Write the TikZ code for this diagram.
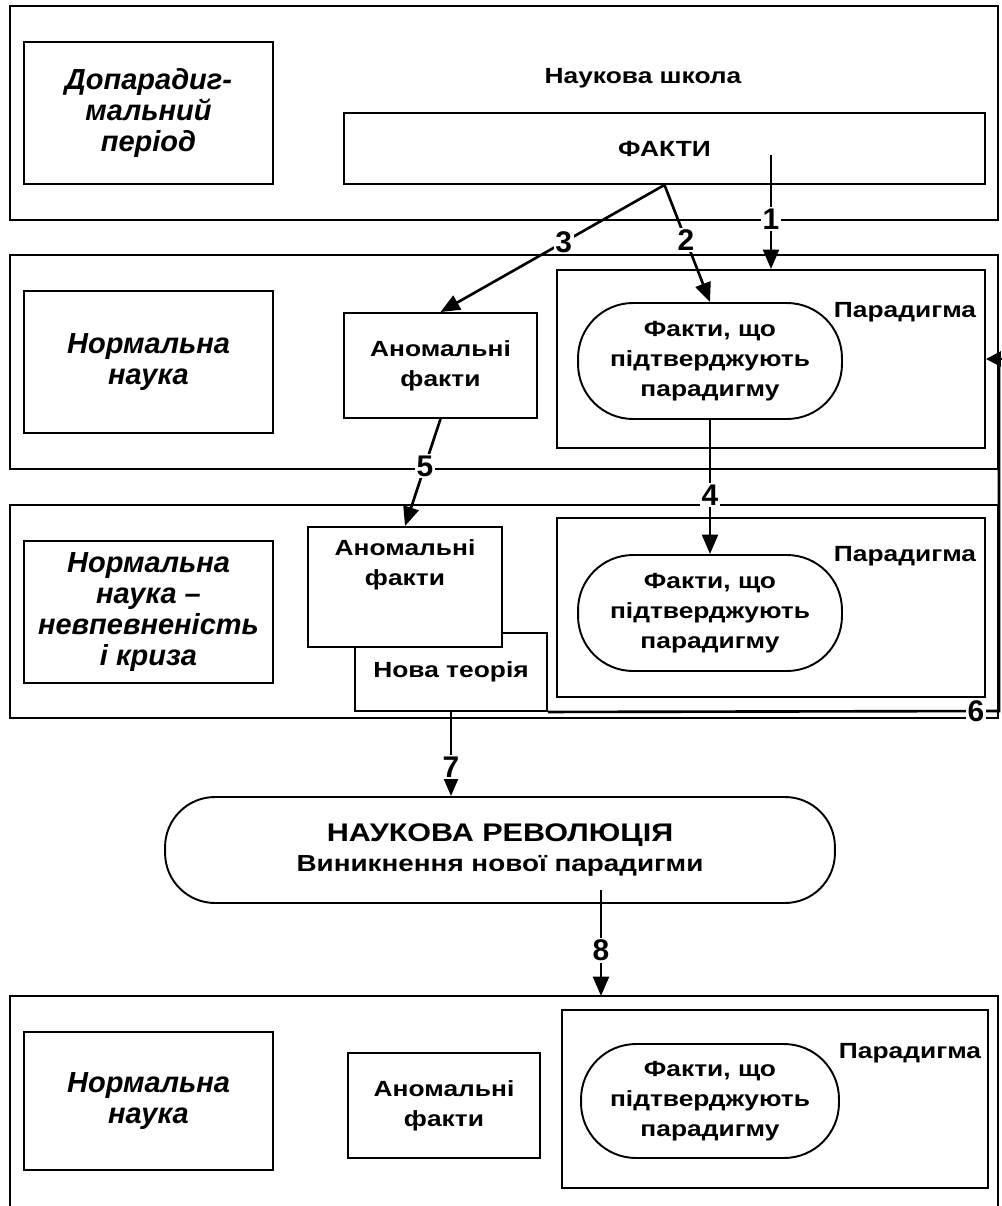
\documentclass[tikz,border=0pt]{standalone}
\usepackage{fontspec}
\setmainfont{Liberation Sans}[FakeStretch=1.2]
\newfontfamily\plainsans{Liberation Sans}
\usetikzlibrary{arrows.meta}

\begin{document}
\begin{tikzpicture}[x=0.02cm, y=-0.02cm, >={Triangle[length=11pt,width=9pt]}]

	\tikzstyle{frame}=[draw, line width=1.1pt]
	\tikzstyle{box}=[draw, fill=white, line width=1.1pt, inner sep=0pt, align=center, font=\bfseries\fontsize{12.5}{17}\selectfont]
	\tikzstyle{stage}=[draw, line width=1.1pt, minimum width=4.98cm, align=center, font=\plainsans\bfseries\itshape\fontsize{16.5}{17.5}\selectfont]
	\tikzstyle{oval}=[box, rounded corners=1.1cm, minimum width=5.28cm, minimum height=2.32cm]
	\tikzstyle{txt}=[align=center, inner sep=0pt, font=\bfseries\fontsize{12.5}{17}\selectfont]
	\tikzstyle{num}=[fill=white, inner sep=1pt, font=\plainsans\bfseries\fontsize{17}{17}\selectfont]
	\tikzstyle{arr}=[->, line width=1.5pt]

	\useasboundingbox (0,0) rectangle (1001,1206);

	% frames of the stages
	\draw[frame] (10,6) rectangle (998,220);
	\draw[frame] (10,255) rectangle (998,469);
	\draw[frame] (10,505) rectangle (998,718);
	\draw[frame] (10,1206) -- (10,996) -- (998,996) -- (998,1206);

	% Stage 1
	\node[stage, minimum height=2.84cm] (dopar) at (148.5,113) {Допарадиг-\\мальний\\період};
	\node[txt] (school) at (643,78) {Наукова школа};
	\node[box, minimum width=12.82cm, minimum height=1.42cm] (fakty) at (664.5,148.5) {ФАКТИ};
	\coordinate (f1) at (771,155);

	% Stage 2
	\node[stage, minimum height=2.84cm] (norm1) at (148.5,362) {Нормальна\\наука};
	\node[box, minimum width=3.86cm, minimum height=2.10cm] (anom1) at (440.5,365.5) {Аномальні\\факти};
	\node[box, minimum width=8.56cm, minimum height=3.56cm] (par1) at (771,359) {};
	\node[txt] (par1t) at (905,312) {Парадигма};
	\node[oval] (fact1) at (710,361) {Факти, що\\підтверджують\\парадигму};

	% Stage 3
	\node[stage, minimum height=2.84cm] (norm2) at (148.5,612) {Нормальна\\наука –\\невпевненість\\і криза};
	\node[box, minimum width=3.84cm, minimum height=1.56cm] (newth) at (451,672) {Нова теорія};
	\node[box, minimum width=3.88cm, minimum height=2.40cm] (anom2) at (405,587) {};
	\node[txt] (anom2t) at (405,565) {Аномальні\\факти};
	\node[box, minimum width=8.56cm, minimum height=3.58cm] (par2) at (771,607.5) {};
	\node[txt] (par2t) at (905,556) {Парадигма};
	\node[oval] (fact2) at (710,613) {Факти, що\\підтверджують\\парадигму};

	% Revolution
	\node[box, rounded corners=1cm, minimum width=13.4cm, minimum height=2.12cm, font=\bfseries\fontsize{13.2}{17}\selectfont] (rev) at (500,850) {{\fontsize{14.5}{17}\selectfont НАУКОВА РЕВОЛЮЦІЯ}\\Виникнення нової парадигми};
	\coordinate (r8) at (601,890);
	\coordinate (top4) at (601,996);

	% Stage 4
	\node[stage, minimum height=2.76cm] (norm3) at (148.5,1101) {Нормальна\\наука};
	\node[box, minimum width=3.84cm, minimum height=2.10cm] (anom3) at (444,1105.5) {Аномальні\\факти};
	\node[box, minimum width=8.52cm, minimum height=3.56cm] (par3) at (775,1099) {};
	\node[txt] (par3t) at (910,1053) {Парадигма};
	\node[oval, minimum width=5.16cm, minimum height=2.28cm] (fact3) at (710,1101) {Факти, що\\підтверджують\\парадигму};

	% From the facts
	\path[arr] (f1) edge node[num, pos=0.565] {1} (par1);
	\path[arr] (fakty.south) edge node[num, pos=0.47] {2} (fact1.north);
	\path[arr] (fakty.south) edge node[num, pos=0.45] {3} (anom1.north);

	% From stage 2 to stage 3
	\path[arr] (fact1.south) edge node[num, pos=0.56] {4} (fact2.north);
	\path[arr] (anom1.south) edge node[num, pos=0.44] {5} (anom2.north);

	% New theory back to the paradigm
	\coordinate (c6) at (999,711);
	\coordinate (c6top) at (999,359);
	\coordinate (c6tip) at (1012,359);
	\draw[line width=1.5pt] (newth.south east) -- node[num, pos=0.949] {6} (c6) -- (c6top);
	\draw[arr, -{Triangle[length=8.5pt,width=8.5pt]}] (c6tip) -- (par1.east);

	% To the revolution and further
	\path[arr] (newth.south) edge node[num, pos=0.66] {7} (newth.south |- rev.north);
	\path[arr] (r8) edge node[num, pos=0.57] {8} (top4);

\end{tikzpicture}
\end{document}
